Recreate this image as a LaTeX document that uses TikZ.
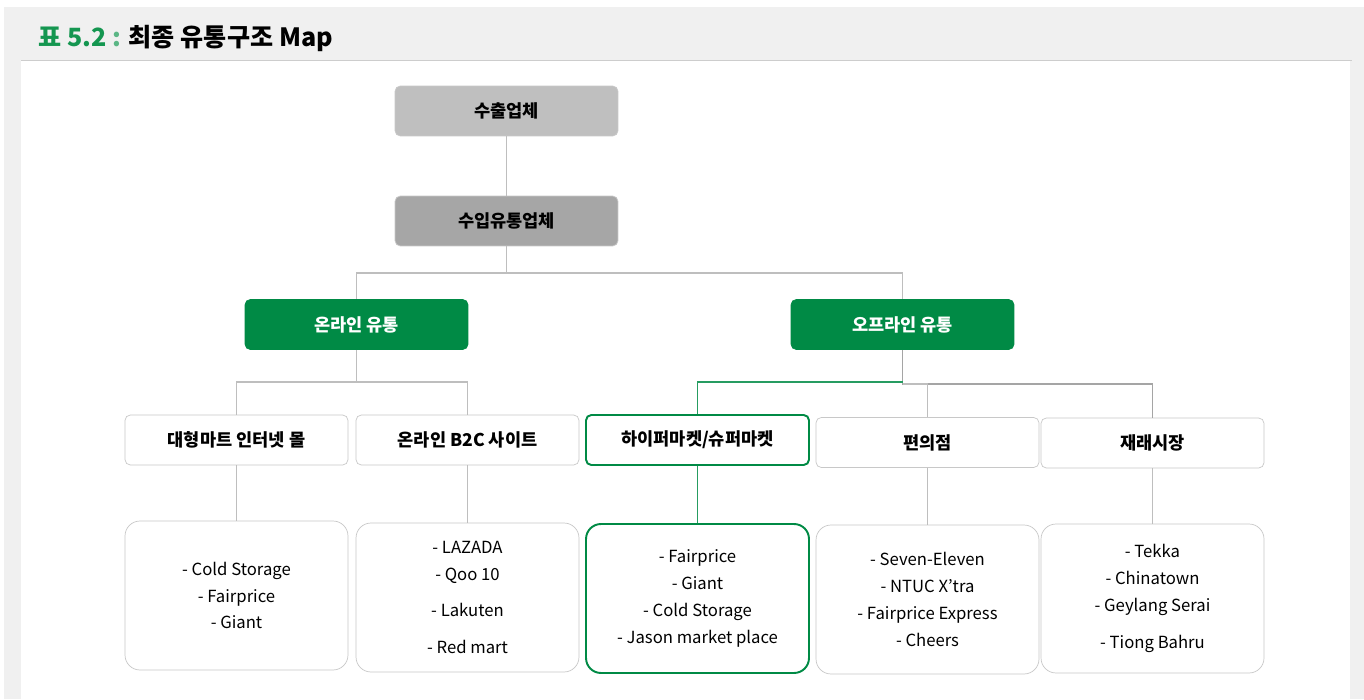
\documentclass[tikz,border=0pt]{standalone}
\usepackage{fontspec}
\setmainfont{Noto Sans CJK KR}
\usetikzlibrary{positioning}

\definecolor{bandgray}{RGB}{240,240,240}
\definecolor{ruleline}{RGB}{205,205,205}
\definecolor{boxline}{RGB}{200,200,200}
\definecolor{lightbox}{RGB}{191,191,191}
\definecolor{darkbox}{RGB}{166,166,166}
\definecolor{chgreen}{RGB}{0,138,69}
\definecolor{titlegreen}{RGB}{20,150,80}
\definecolor{linegray}{RGB}{190,190,190}
\definecolor{darkline}{RGB}{165,165,165}

\begin{document}
\begin{tikzpicture}[
  x=0.02cm, y=-0.02cm,
  font=\fontsize{9.5pt}{15.3pt}\selectfont,
  head/.style={rectangle, draw=boxline, rounded corners=3pt, minimum width=4.46cm, minimum height=1cm, inner sep=0pt, font=\fontsize{10pt}{12pt}\selectfont\bfseries},
  channel/.style={head, draw=chgreen, fill=chgreen, text=white},
  shop/.style={head, fill=white},
  list/.style={rectangle, draw=boxline, fill=white, rounded corners=8.5pt, minimum width=4.46cm, minimum height=2.98cm, inner sep=0pt, align=center},
  conn/.style={draw=linegray, line width=0.6pt},
  gconn/.style={draw=chgreen!85, line width=0.7pt}
]
  % frame
  \useasboundingbox (0,0) rectangle (1364,699);
  \fill[white] (0,0) rectangle (1364,699);
  \fill[bandgray] (4,7) rectangle (1364,699);
  \fill[white] (21,61) rectangle (1350,699);
  \draw[ruleline, line width=1pt] (21,60.5) -- (1352,60.5);
  \node[anchor=west, inner sep=0pt, font=\fontsize{14.3pt}{16pt}\selectfont\bfseries] (title) at (38,38)
    {\textcolor{titlegreen}{표 5.2} \textcolor{titlegreen!70}{:} 최종 유통구조 Map};

  % top levels
  \node[head, fill=lightbox] (exp) at (506.5,111) {수출업체};
  \node[head, fill=darkbox] (imp) at (506.5,221) {수입유통업체};
  \node[channel] (on) at (356.5,324.5) {온라인 유통};
  \node[channel] (off) at (902.5,324.5) {오프라인 유통};

  % shop types
  \node[shop] (mart) at (236.5,440) {대형마트 인터넷 몰};
  \node[shop] (b2c) at (467.5,440) {온라인 B2C 사이트};
  \node[shop, draw=chgreen, line width=1.1pt] (hyper) at (697.5,440) {하이퍼마켓/슈퍼마켓};
  \node[shop] (conv) at (927.5,442.5) {편의점};
  \node[shop] (trad) at (1152.5,443) {재래시장};

  % store lists
  \node[list] (martlist) at (236.5,595.5) {- Cold Storage\\- Fairprice\\- Giant};
  \node[list] (b2clist) at (467.5,597.5) {- LAZADA\\- Qoo 10\\[5pt]- Lakuten\\[5.5pt]- Red mart};
  \node[list, draw=chgreen, line width=1.1pt] (hyperlist) at (697.5,598.5) {- Fairprice\\- Giant\\- Cold Storage\\- Jason market place};
  \node[list] (convlist) at (927.5,599.5) {- Seven-Eleven\\- NTUC X’tra\\- Fairprice Express\\- Cheers};
  \node[list] (tradlist) at (1152.5,598.5) {- Tekka\\- Chinatown\\- Geylang Serai\\[5.5pt]- Tiong Bahru};

  % connectors
  \coordinate (split) at (506.5,273);
  \coordinate (onsplit) at (356.5,382);
  \coordinate (offsplit) at (902.5,382);
  \coordinate (offsplit2) at (902.5,384);
  \draw[conn] (exp) -- (imp);
  \draw[conn] (imp) -- (split);
  \draw[conn] (split) -| (on);
  \draw[conn] (split) -| (off);
  \draw[conn] (on) -- (onsplit);
  \draw[conn] (onsplit) -| (mart);
  \draw[conn] (onsplit) -| (b2c);
  \draw[draw=darkline, line width=0.9pt] (off) -- (offsplit2) -| (trad);
  \draw[conn] (offsplit2) -| (conv);
  \draw[gconn] (offsplit) -| (hyper);
  \draw[conn] (mart) -- (martlist);
  \draw[conn] (b2c) -- (b2clist);
  \draw[gconn] (hyper) -- (hyperlist);
  \draw[conn] (conv) -- (convlist);
  \draw[conn] (trad) -- (tradlist);
\end{tikzpicture}
\end{document}
